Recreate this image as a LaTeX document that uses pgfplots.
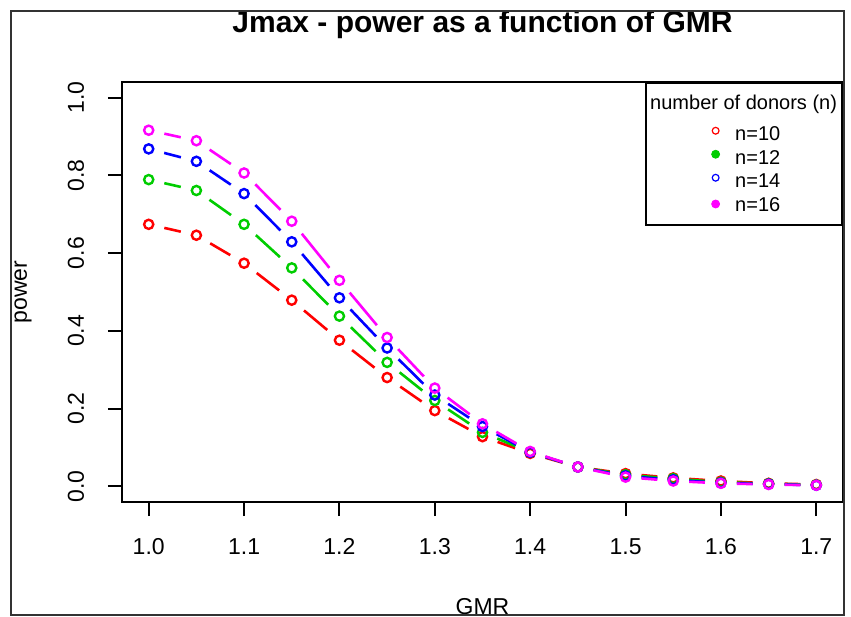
\documentclass[border=0pt]{standalone}
\usepackage{pgfplots}
\pgfplotsset{compat=1.18}
\usepackage{pgfplotstable}
\usepackage{fontspec}
\setmainfont{Liberation Sans}

\definecolor{rred}{RGB}{255,0,0}
\definecolor{rgreen}{RGB}{0,205,0}
\definecolor{rblue}{RGB}{0,0,255}
\definecolor{rmag}{RGB}{255,0,255}

% power by GMR; dy = step to the next point (for the gapped segments)
\pgfplotstableread{
x    y     dy
1.00 0.674 -0.028
1.05 0.646 -0.072
1.10 0.574 -0.095
1.15 0.479 -0.103
1.20 0.376 -0.096
1.25 0.280 -0.085
1.30 0.195 -0.067
1.35 0.128 -0.043
1.40 0.085 -0.035
1.45 0.050 -0.017
1.50 0.033 -0.011
1.55 0.022 -0.008
1.60 0.014 -0.006
1.65 0.008 -0.003
1.70 0.005  0
}\nten
\pgfplotstableread{
x    y     dy
1.00 0.789 -0.028
1.05 0.761 -0.087
1.10 0.674 -0.112
1.15 0.562 -0.124
1.20 0.438 -0.119
1.25 0.319 -0.098
1.30 0.221 -0.082
1.35 0.139 -0.051
1.40 0.088 -0.038
1.45 0.050 -0.020
1.50 0.030 -0.010
1.55 0.020 -0.009
1.60 0.011 -0.004
1.65 0.007 -0.003
1.70 0.004  0
}\ntwelve
\pgfplotstableread{
x    y     dy
1.00 0.868 -0.032
1.05 0.836 -0.083
1.10 0.753 -0.124
1.15 0.629 -0.144
1.20 0.485 -0.129
1.25 0.356 -0.121
1.30 0.235 -0.081
1.35 0.154 -0.066
1.40 0.088 -0.038
1.45 0.050 -0.023
1.50 0.027 -0.010
1.55 0.017 -0.008
1.60 0.009 -0.003
1.65 0.006 -0.003
1.70 0.003  0
}\nfourteen
\pgfplotstableread{
x    y     dy
1.00 0.916 -0.027
1.05 0.889 -0.083
1.10 0.806 -0.124
1.15 0.682 -0.152
1.20 0.530 -0.147
1.25 0.383 -0.130
1.30 0.253 -0.092
1.35 0.161 -0.071
1.40 0.090 -0.040
1.45 0.050 -0.026
1.50 0.024 -0.010
1.55 0.014 -0.006
1.60 0.008 -0.003
1.65 0.005 -0.002
1.70 0.003  0
}\nsixteen

\pgfplotsset{
  seg/.style={no marks, line width=1.3bp, forget plot,
    quiver={u=0.05, v=\thisrow{dy},
      every arrow/.append style={-, shorten <=8bp, shorten >=8bp}},
    skip coords between index={14}{15}},
  pts/.style={only marks, mark=o, mark size=2.3bp,
    mark options={line width=1.2bp}, forget plot},
}

\begin{document}
\begin{tikzpicture}
\begin{axis}[
  at={(0,0)}, anchor=south west,
  scale only axis, width=360.5bp, height=210bp,
  xmin=0.972, xmax=1.728, ymin=-0.04, ymax=1.04,
  axis line style={line width=1bp},
  xtick={1.0,1.1,1.2,1.3,1.4,1.5,1.6,1.7},
  ytick={0,0.2,0.4,0.6,0.8,1.0},
  xtick pos=bottom, ytick pos=left,
  tick align=outside, major tick length=7bp,
  tick style={line width=1bp, black},
  /pgf/number format/assume math mode=true,
  /pgf/number format/fixed, /pgf/number format/fixed zerofill,
  /pgf/number format/precision=1,
  tick label style={font=\fontsize{11.5bp}{13bp}\selectfont},
  xticklabel style={anchor=base, yshift=-19bp},
  yticklabel style={xshift=-12bp, rotate=90, anchor=base},
  title={Jmax - power as a function of GMR},
  every axis title/.style={at={(rel axis cs:0.5,1)}, anchor=base, yshift=24.5bp,
    font=\bfseries\fontsize{15bp}{18bp}\selectfont},
  xlabel={GMR}, ylabel={power},
  every axis x label/.style={at={(axis description cs:0.5,0)}, anchor=base,
    yshift=-56bp, font=\fontsize{11.5bp}{13bp}\selectfont},
  every axis y label/.style={at={(axis description cs:0,0.5)}, xshift=-47.5bp,
    rotate=90, anchor=base, font=\fontsize{11.5bp}{13bp}\selectfont},
  legend style={at={(rel axis cs:1,1)}, anchor=north east, draw=black,
    line width=1bp, inner sep=0pt, row sep=0pt, column sep=0pt,
    nodes={inner sep=0pt, text height=, text depth=,
      font=\fontsize{10bp}{12bp}\selectfont}},
  legend cell align=left,
  legend image code/.code={\path (-34.5bp,0bp) (9.5bp,0bp);
    \draw[#1] plot[only marks] coordinates {(0bp,3.5bp)};},
]
\addplot[seg, rred] table[x=x, y=y] {\nten};
\addplot[pts, rred] table[x=x, y=y] {\nten};
\addplot[seg, rgreen] table[x=x, y=y] {\ntwelve};
\addplot[pts, rgreen] table[x=x, y=y] {\ntwelve};
\addplot[seg, rblue] table[x=x, y=y] {\nfourteen};
\addplot[pts, rblue] table[x=x, y=y] {\nfourteen};
\addplot[seg, rmag] table[x=x, y=y] {\nsixteen};
\addplot[pts, rmag] table[x=x, y=y] {\nsixteen};

\addlegendimage{empty legend}
\addlegendentry{\hspace*{-42.5bp}number of donors (n)\hspace*{2.5bp}\rule[-8bp]{0pt}{21.5bp}}
\addlegendimage{rred, mark=o, mark size=1.7bp, line width=0.6bp}
\addlegendentry{n=10\rule[-4.25bp]{0pt}{11.75bp}}
\addlegendimage{rgreen, mark=*, mark size=2bp, line width=0.4bp}
\addlegendentry{n=12\rule[-4.25bp]{0pt}{11.75bp}}
\addlegendimage{rblue, mark=o, mark size=1.7bp, line width=0.6bp}
\addlegendentry{n=14\rule[-4.25bp]{0pt}{11.75bp}}
\addlegendimage{rmag, mark=*, mark size=2bp, line width=0.4bp}
\addlegendentry{n=16\rule[-7bp]{0pt}{14.5bp}}
\end{axis}
\draw[line width=1bp, black!80] (-55.5bp,-56.5bp) rectangle (361bp,245.5bp);
\pgfresetboundingbox
\useasboundingbox (-61bp,-57.5bp) rectangle (364.5bp,251bp);
\end{tikzpicture}
\end{document}
